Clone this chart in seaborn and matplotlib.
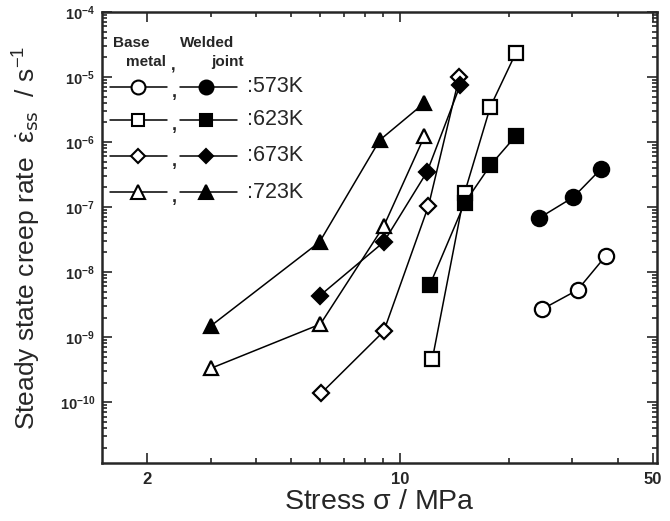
import numpy as np
import pandas as pd
import matplotlib
matplotlib.use("Agg")
import matplotlib.pyplot as plt
from matplotlib.ticker import FixedLocator, NullFormatter, FixedFormatter, LogLocator
import seaborn as sns

sns.set_style("ticks")
plt.rcParams['font.family'] = ['Liberation Sans', 'DejaVu Sans']
plt.rcParams['mathtext.default'] = 'regular'

# ---- data (stress in MPa, steady-state creep rate in 1/s) ----
temps = ["573K", "623K", "673K", "723K"]

base_573_x = [24.8, 31.0, 37.1]
base_573_y = [2.7e-9, 5.3e-9, 1.77e-8]
weld_573_x = [24.3, 30.2, 35.9]
weld_573_y = [6.8e-8, 1.42e-7, 3.8e-7]

base_623_x = [12.3, 15.1, 17.8, 20.9]
base_623_y = [4.6e-10, 1.65e-7, 3.5e-6, 2.3e-5]
weld_623_x = [12.1, 15.1, 17.8, 20.9]
weld_623_y = [6.3e-9, 1.15e-7, 4.4e-7, 1.23e-6]

base_673_x = [6.07, 9.03, 12.0, 14.6]
base_673_y = [1.38e-10, 1.23e-9, 1.04e-7, 1.0e-5]
weld_673_x = [6.0, 9.03, 11.9, 14.7]
weld_673_y = [4.3e-9, 2.9e-8, 3.5e-7, 7.6e-6]

base_723_x = [3.0, 6.03, 9.03, 11.7]
base_723_y = [3.3e-10, 1.58e-9, 5.1e-8, 1.23e-6]
weld_723_x = [3.0, 6.0, 8.8, 11.7]
weld_723_y = [1.48e-9, 2.9e-8, 1.07e-6, 4.0e-6]

x_major = [2, 10, 50]
x_major_labels = ["2", "10", "50"]
x_minor = [3, 4, 5, 6, 7, 8, 9, 20, 30, 40]

series = [
    (base_573_x, base_573_y, 'o', False),
    (weld_573_x, weld_573_y, 'o', True),
    (base_623_x, base_623_y, 's', False),
    (weld_623_x, weld_623_y, 's', True),
    (base_673_x, base_673_y, 'D', False),
    (weld_673_x, weld_673_y, 'D', True),
    (base_723_x, base_723_y, '^', False),
    (weld_723_x, weld_723_y, '^', True),
]
msize = {'o': 11, 's': 9.5, 'D': 8.5, '^': 10.5}

fig = plt.figure(figsize=(6.7, 5.21), dpi=100)
ax = fig.add_axes([0.152, 0.111, 0.829, 0.866])

for xs, ys, m, filled in series:
    df = pd.DataFrame({"stress": xs, "rate": ys})
    sns.lineplot(data=df, x="stress", y="rate", ax=ax, color="black",
                 linewidth=1.1, marker=m, markersize=msize[m],
                 markerfacecolor="black" if filled else "white",
                 markeredgecolor="black", markeredgewidth=1.6,
                 estimator=None, sort=False, legend=False)

ax.set_xscale("log")
ax.set_yscale("log")
ax.set_xlim(1.5, 51.5)
ax.set_ylim(1.15e-11, 1e-4)

ax.xaxis.set_major_locator(FixedLocator(x_major))
ax.xaxis.set_major_formatter(FixedFormatter(x_major_labels))
ax.xaxis.set_minor_locator(FixedLocator(x_minor))
ax.xaxis.set_minor_formatter(NullFormatter())
ax.yaxis.set_major_locator(FixedLocator([1e-10, 1e-9, 1e-8, 1e-7, 1e-6, 1e-5, 1e-4]))
ax.yaxis.set_minor_locator(LogLocator(base=10, subs=np.arange(2, 10), numticks=20))
ax.yaxis.set_minor_formatter(NullFormatter())

ax.tick_params(which='both', direction='in', top=True, right=True, width=1.2)
ax.tick_params(which='major', length=7)
ax.tick_params(which='minor', length=3.5)
ax.tick_params(axis='x', which='major', labelsize=12, pad=6)
ax.tick_params(axis='y', which='major', labelsize=10.5, pad=5)
for lab in ax.get_xticklabels() + ax.get_yticklabels():
    lab.set_fontweight('bold')
for sp in ax.spines.values():
    sp.set_linewidth(1.8)

ax.set_xlabel(r"Stress $\sigma$ / MPa", fontsize=20.5, labelpad=2)
ax.set_ylabel(r"Steady state creep rate  $\dot{\varepsilon}_{\mathrm{ss}}$  / s$^{-1}$",
              fontsize=19, labelpad=12)

# ---- custom legend block ----
T = ax.transAxes
row_y = [0.834, 0.761, 0.681, 0.601]
markers = ['o', 's', 'D', '^']
for yy, m, t in zip(row_y, markers, temps):
    ax.plot([0.015, 0.065, 0.118], [yy, yy, yy], transform=T, color='black',
            linewidth=1.1, marker=m, markevery=[1], markersize=msize[m] - 1,
            markerfacecolor='white', markeredgecolor='black', markeredgewidth=1.5,
            clip_on=False)
    ax.text(0.130, yy - 0.012, ",", transform=T, fontsize=13, fontweight='bold',
            ha='center', va='center')
    ax.plot([0.141, 0.188, 0.244], [yy, yy, yy], transform=T, color='black',
            linewidth=1.1, marker=m, markevery=[1], markersize=msize[m] - 1,
            markerfacecolor='black', markeredgecolor='black', markeredgewidth=1.5,
            clip_on=False)
    ax.text(0.262, yy, ":" + t, transform=T, fontsize=15.5, ha='left', va='center')

ax.text(0.053, 0.931, "Base", transform=T, fontsize=11, fontweight='bold', ha='center', va='center')
ax.text(0.080, 0.889, "metal", transform=T, fontsize=11, fontweight='bold', ha='center', va='center')
ax.text(0.128, 0.880, ",", transform=T, fontsize=12, fontweight='bold', ha='center', va='center')
ax.text(0.190, 0.931, "Welded", transform=T, fontsize=11, fontweight='bold', ha='center', va='center')
ax.text(0.226, 0.889, "joint", transform=T, fontsize=11, fontweight='bold', ha='center', va='center')

fig.savefig("out.png", dpi=100)
